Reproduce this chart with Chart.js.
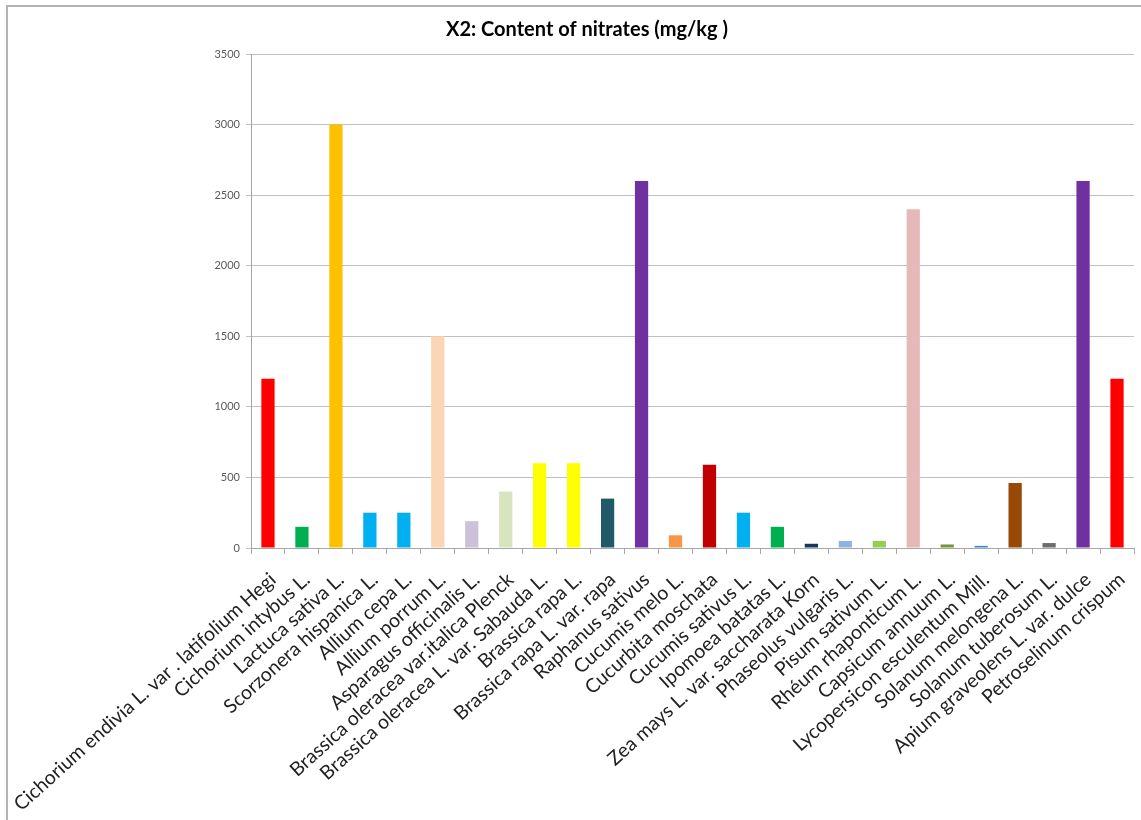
<!DOCTYPE html>
<html>
<head>
<meta charset="utf-8">
<script src="https://cdn.jsdelivr.net/npm/chart.js@4/dist/chart.umd.min.js"></script>
<style>
  html, body { margin: 0; padding: 0; background: #ffffff; }
  #wrap { position: relative; width: 1141px; height: 820px; overflow: hidden; }
  #frame { position: absolute; left: 6px; top: 5px; width: 1200px; height: 900px;
           border-left: 2px solid #b3b3b3; border-top: 2px solid #b3b3b3; }
  #nitratesChart { position: absolute; left: 0; top: 0; }
</style>
</head>
<body>
<div id="wrap">
  <div id="frame"></div>
  <canvas id="nitratesChart" width="1141" height="820"></canvas>
</div>
<script>
// Cultures et teneur en nitrates (mg/kg)
const categories = [
    'Cichorium endivia L. var . latifolium Hegi',
    'Cichorium intybus L.',
    'Lactuca sativa L.',
    'Scorzonera hispanica L.',
    'Allium cepa L.',
    'Allium porrum L.',
    'Asparagus officinalis L.',
    'Brassica oleracea var.italica Plenck',
    'Brassica oleracea L. var. Sabauda L.',
    'Brassica rapa L.',
    'Brassica rapa L. var. rapa',
    'Raphanus sativus',
    'Cucumis melo L.',
    'Cucurbita moschata',
    'Cucumis sativus L.',
    'Ipomoea batatas L.',
    'Zea mays L. var. saccharata Korn',
    'Phaseolus vulgaris L.',
    'Pisum sativum L.',
    'Rhéum rhaponticum L.',
    'Capsicum annuum L.',
    'Lycopersicon esculentum Mill.',
    'Solanum melongena L.',
    'Solanum tuberosum L.',
    'Apium graveolens L. var. dulce',
    'Petroselinum crispum'
];

const nitrates = [
    1200, 150, 3000, 250, 250, 1500, 190, 400, 600, 600, 350, 2600, 90,
    590, 250, 150, 30, 50, 50, 2400, 25, 15, 460, 35, 2600, 1200
];

const barColors = [
    '#ff0000', '#00b050', '#ffc000', '#00b0f0', '#00b0f0', '#fcd5b5', '#ccc1da',
    '#d7e4bd', '#ffff00', '#ffff00', '#215968', '#7030a0', '#f79646', '#c00000',
    '#00b0f0', '#00b050', '#17375e', '#8db4e2', '#92d050', '#e6b9b8', '#77933c',
    '#3a87c8', '#984807', '#6d6d6d', '#7030a0', '#ff0000'
];

const yTicks = [0, 500, 1000, 1500, 2000, 2500, 3000, 3500];

const ctx = document.getElementById('nitratesChart');
const chart = new Chart(ctx, {
    type: 'bar',
    data: {
        labels: categories,
        datasets: [{
            label: 'X2',
            data: nitrates,
            backgroundColor: barColors,
            borderWidth: 0,
            categoryPercentage: 1,
            barPercentage: 0.39
        }]
    },
    options: {
        responsive: false,
        animation: false,
        layout: { padding: { left: 40, right: 7, top: 0, bottom: 0 } },
        plugins: {
            legend: { display: false },
            tooltip: { enabled: false },
            title: {
                display: true,
                text: 'X2: Content of nitrates (mg/kg )',
                color: '#000000',
                font: { family: 'Lato', size: 20, weight: 'bold' },
                padding: { top: 18, bottom: 12 }
            }
        },
        scales: {
            x: {
                grid: {
                    display: true,
                    drawOnChartArea: false,
                    tickLength: 6,
                    color: '#a6a6a6'
                },
                border: { color: '#a6a6a6', width: 1 },
                ticks: {
                    autoSkip: false,
                    minRotation: 42,
                    maxRotation: 42,
                    padding: 14,
                    labelOffset: 5,
                    color: '#222222',
                    font: { family: 'Lato', size: 19.5 }
                },
                afterFit: function(scale) {
                    scale.height = 272;
                    // pas de marge auto pour les longues étiquettes
                    scale.paddingLeft = 0;
                    scale.paddingRight = 0;
                }
            },
            y: {
                min: 0,
                max: 3500,
                afterBuildTicks: function(scale) {
                    scale.ticks = yTicks.map(v => ({ value: v }));
                },
                grid: { color: '#c0c0c0', tickLength: 5 },
                border: { color: '#a6a6a6', width: 1 },
                ticks: {
                    padding: 6,
                    color: '#595959',
                    font: { family: 'Lato', size: 11 },
                    callback: function(value) {
                        return String(value);
                    }
                },
                afterFit: function(scale) {
                    scale.width = 211;
                }
            }
        }
    }
});
</script>
</body>
</html>
